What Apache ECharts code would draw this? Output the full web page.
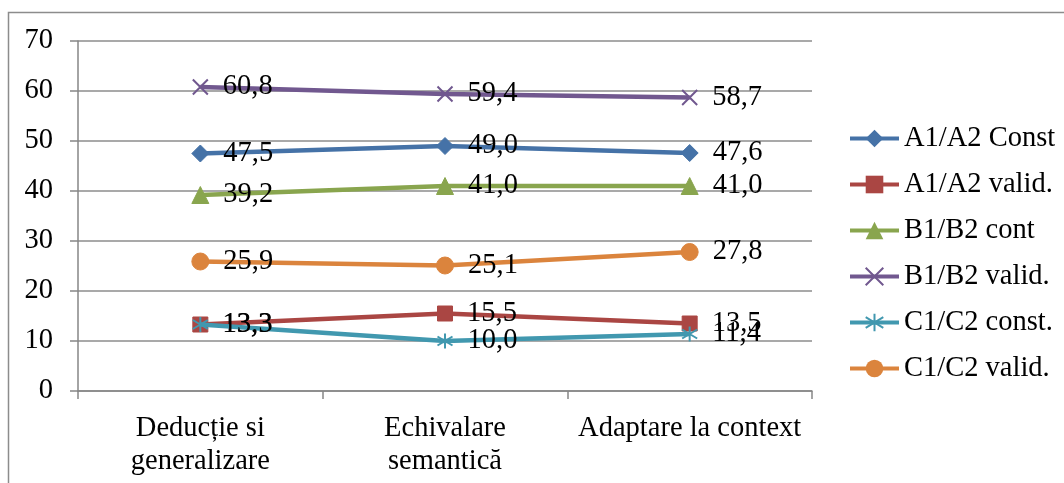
<!DOCTYPE html>
<html>
<head>
<meta charset="utf-8">
<script src="https://cdn.jsdelivr.net/npm/echarts@6/dist/echarts.min.js"></script>
<style>html,body{margin:0;padding:0;background:#fff}#c{width:1064px;height:483px}</style>
</head>
<body>
<div id="c"></div>
<script>
const categories = ['Deducție si\ngeneralizare', 'Echivalare\nsemantică', 'Adaptare la context'];
const seriesNames = ['A1/A2 Const', 'A1/A2 valid.', 'B1/B2 cont', 'B1/B2 valid.', 'C1/C2 const.', 'C1/C2 valid.'];
const a1a2Const = [47.5, 49.0, 47.6];
const a1a2Valid = [13.3, 15.5, 13.5];
const b1b2Cont = [39.2, 41.0, 41.0];
const b1b2Valid = [60.8, 59.4, 58.7];
const c1c2Const = [13.3, 10.0, 11.4];
const c1c2Valid = [25.9, 25.1, 27.8];
const yTicks = [0, 10, 20, 30, 40, 50, 60, 70];

const colors = ['#4572A7', '#AA4643', '#89A54E', '#71588F', '#4198AF', '#DB843D'];
const crossPath = 'path://M0,0 L10,10 M10,0 L0,10';
const starPath = 'path://M5,0 L5,10 M0,2 L10,8 M0,8 L10,2';
const symbols = ['diamond', 'rect', 'triangle', crossPath, starPath, 'circle'];
const sizes = [17, 15, 17, 15, 15, 17];
const dataSets = [a1a2Const, a1a2Valid, b1b2Cont, b1b2Valid, c1c2Const, c1c2Valid];
const font = '"Liberation Serif", "Times New Roman", serif';
const FS = 28.5;

const chart = echarts.init(document.getElementById('c'));
chart.setOption({
  animation: false,
  textStyle: { fontFamily: font },
  graphic: [{
    type: 'rect', shape: { x: 8.5, y: 12.5, width: 1100, height: 600 },
    style: { fill: 'none', stroke: '#8c8c8c', lineWidth: 1.5 }, silent: true, z: -1
  }],
  grid: { left: 78, right: 252, top: 41, bottom: 92, containLabel: false },
  legend: {
    orient: 'vertical', left: 848, top: 124, padding: 0, itemGap: 17, itemWidth: 49, itemHeight: 22,
    lineStyle: { width: 4 },
    textStyle: { fontFamily: font, fontSize: FS, color: '#000', lineHeight: 29 },
    data: seriesNames
  },
  xAxis: {
    type: 'category', data: categories, boundaryGap: true,
    axisLine: { lineStyle: { color: '#868686', width: 1.5 } },
    axisTick: { show: true, length: 8, lineStyle: { color: '#868686', width: 1.5 } },
    axisLabel: { interval: 0, fontFamily: font, fontSize: FS, color: '#000', margin: 21, lineHeight: 33 }
  },
  yAxis: {
    type: 'value', min: 0, max: 70, interval: 10,
    axisLine: { show: true, lineStyle: { color: '#868686', width: 1.5 } },
    axisTick: { show: true, length: 8, inside: false, lineStyle: { color: '#868686', width: 1.5 } },
    splitLine: { lineStyle: { color: '#8c8c8c', width: 1.5 } },
    axisLabel: { fontFamily: font, fontSize: FS, color: '#000', margin: 25,
      formatter: v => yTicks.includes(v) ? String(v) : '' }
  },
  series: dataSets.map((d, i) => ({
    name: seriesNames[i], type: 'line', data: d,
    symbol: symbols[i], symbolSize: sizes[i], showAllSymbol: true,
    lineStyle: { color: colors[i], width: 4.5 },
    itemStyle: i === 3 || i === 4
      ? { color: 'transparent', borderColor: colors[i], borderWidth: 2 }
      : { color: colors[i], borderColor: colors[i] },
    label: {
      show: true, position: 'right', distance: 14, color: '#000',
      fontFamily: font, fontSize: FS,
      formatter: p => p.value.toFixed(1).replace('.', ',')
    },
    z: 2 + i
  }))
});
</script>
</body>
</html>
